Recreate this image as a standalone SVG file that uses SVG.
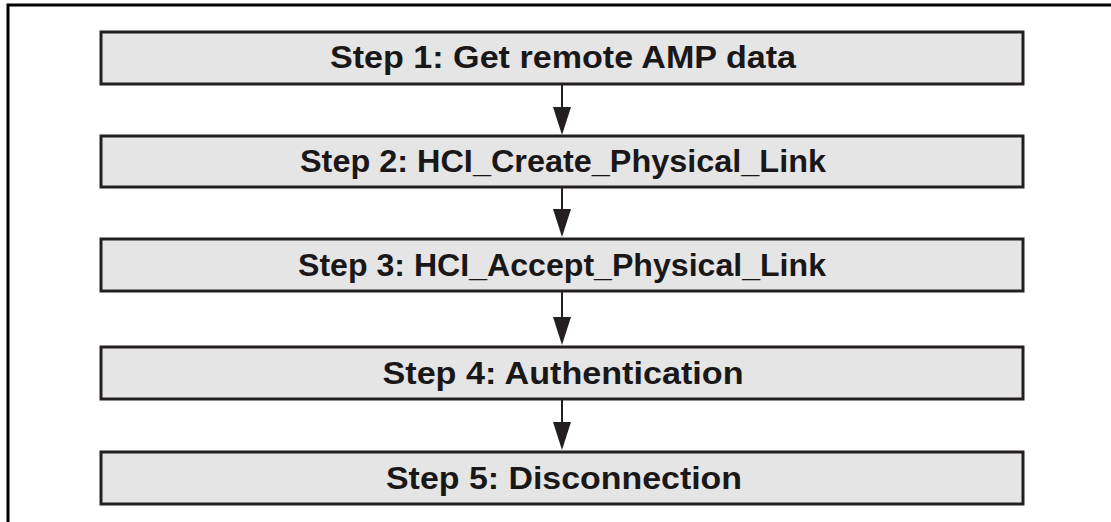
<svg xmlns="http://www.w3.org/2000/svg" width="1111" height="522" viewBox="0 0 1111 522">
<style>
.box{fill:#e5e5e5;stroke:#231f20;stroke-width:3}
.lbl{font-family:"Liberation Sans",Arial,sans-serif;font-weight:bold;font-size:31px;fill:#1a1718;text-anchor:middle}
.conn{stroke:#231f20;stroke-width:2;fill:none}
.head{fill:#231f20}
</style>
<rect width="1111" height="522" fill="#fff"/>
<path d="M8 522 V5 H1111" fill="none" stroke="#000" stroke-width="3"/>
<g id="connectors">
<line class="conn" x1="562" y1="84" x2="562" y2="110"/>
<polygon class="head" points="553,107 571,107 562,135"/>
<line class="conn" x1="562" y1="187" x2="562" y2="212"/>
<polygon class="head" points="553,209 571,209 562,237"/>
<line class="conn" x1="562" y1="291" x2="562" y2="320"/>
<polygon class="head" points="553,317 571,317 562,345"/>
<line class="conn" x1="562" y1="399" x2="562" y2="425"/>
<polygon class="head" points="553,422 571,422 562,450"/>
</g>
<g id="step1"><rect class="box" x="101" y="32" width="922" height="52"/><text class="lbl" x="563" y="68" textLength="466" lengthAdjust="spacingAndGlyphs">Step 1: Get remote AMP data</text></g>
<g id="step2"><rect class="box" x="101" y="136" width="922" height="51"/><text class="lbl" x="563" y="172" textLength="526" lengthAdjust="spacingAndGlyphs">Step 2: HCI_Create_Physical_Link</text></g>
<g id="step3"><rect class="box" x="101" y="239" width="922" height="52"/><text class="lbl" x="562" y="276" textLength="528" lengthAdjust="spacingAndGlyphs">Step 3: HCI_Accept_Physical_Link</text></g>
<g id="step4"><rect class="box" x="101" y="347" width="922" height="52"/><text class="lbl" x="563" y="384" textLength="361" lengthAdjust="spacingAndGlyphs">Step 4: Authentication</text></g>
<g id="step5"><rect class="box" x="101" y="452" width="922" height="52"/><text class="lbl" x="564" y="489" textLength="356" lengthAdjust="spacingAndGlyphs">Step 5: Disconnection</text></g>
</svg>
